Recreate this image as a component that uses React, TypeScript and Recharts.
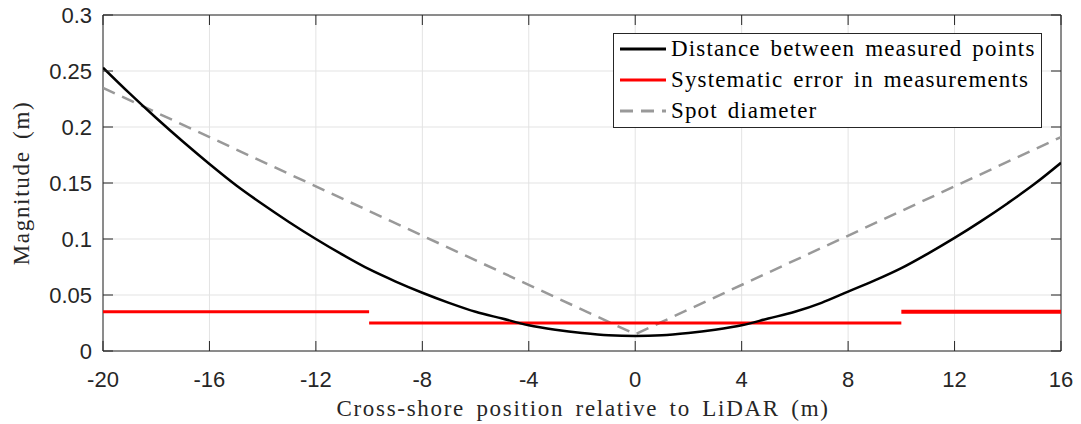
import React from 'react';
import { LineChart, Line, XAxis, YAxis, CartesianGrid, ReferenceArea } from 'recharts';

const xTicks = [-20, -16, -12, -8, -4, 0, 4, 8, 12, 16];
const yTicks = [0, 0.05, 0.1, 0.15, 0.2, 0.25, 0.3];

const distX = [-20, -19, -18, -17, -16, -15, -14, -13, -12, -11, -10, -9, -8, -7, -6, -5, -4, -3, -2, -1, 0, 1, 2, 3, 4, 5, 6, 7, 8, 9, 10, 11, 12, 13, 14, 15, 16];
const distY = [0.253, 0.230, 0.208, 0.187, 0.167, 0.148, 0.131, 0.115, 0.100, 0.086, 0.073, 0.062, 0.052, 0.043, 0.035, 0.029, 0.023, 0.019, 0.016, 0.014, 0.0135, 0.014, 0.016, 0.019, 0.023, 0.029, 0.035, 0.043, 0.053, 0.063, 0.074, 0.087, 0.101, 0.116, 0.132, 0.149, 0.168];

const spotX = [-20, -10, -1, 0, 1, 10, 16];
const spotY = [0.235, 0.125, 0.026, 0.015, 0.026, 0.125, 0.191];

const errLeftX = [-20, -10];
const errLeftY = [0.035, 0.035];
const errMidX = [-10, 10];
const errMidY = [0.025, 0.025];
const errRightX = [10, 16];
const errRightY = [0.035, 0.035];

const seriesNames = ['Distance between measured points', 'Systematic error in measurements', 'Spot diameter'];

const zip = (xs: number[], ys: number[]) => xs.map((x, i) => ({ x, y: ys[i] }));

const PLOT_LEFT = 103;
const PLOT_RIGHT = 1061;
const PLOT_TOP = 15;
const PLOT_BOTTOM = 351;
const AXIS_COLOR = '#262626';
const TICK_FONT = '"Liberation Sans", Arial, sans-serif';
const LABEL_FONT = '"Liberation Serif", "Times New Roman", serif';

const fmtY = (v: number) => String(Math.round(v * 1000) / 1000);

const YTick = (props: any) => {
  const { y, payload } = props;
  return (
    <g>
      <line x1={PLOT_LEFT} x2={PLOT_LEFT + 10} y1={y} y2={y} stroke={AXIS_COLOR} strokeWidth={1} />
      <line x1={PLOT_RIGHT - 10} x2={PLOT_RIGHT} y1={y} y2={y} stroke={AXIS_COLOR} strokeWidth={1} />
      <text x={PLOT_LEFT - 11} y={y} dy="0.36em" textAnchor="end" fontFamily={TICK_FONT} fontSize={22} fill={AXIS_COLOR}>
        {fmtY(payload.value)}
      </text>
    </g>
  );
};

const XTick = (props: any) => {
  const { x, payload } = props;
  return (
    <g>
      <line x1={x} x2={x} y1={PLOT_BOTTOM} y2={PLOT_BOTTOM - 10} stroke={AXIS_COLOR} strokeWidth={1} />
      <line x1={x} x2={x} y1={PLOT_TOP} y2={PLOT_TOP + 10} stroke={AXIS_COLOR} strokeWidth={1} />
      <text x={x} y={387} textAnchor="middle" fontFamily={TICK_FONT} fontSize={22} fill={AXIS_COLOR}>
        {String(payload.value)}
      </text>
    </g>
  );
};

const legendColors = ['#000000', '#ff0000', '#999999'];
const legendDash = [false, false, true];

export default function App() {
  return (
    <div style={{ position: 'absolute', left: 0, top: 0, width: 1081, height: 424, background: '#fff' }}>
      <LineChart
        width={1081}
        height={424}
        margin={{ left: PLOT_LEFT - 60, right: 1081 - PLOT_RIGHT, top: PLOT_TOP, bottom: 424 - PLOT_BOTTOM - 30 }}
      >
        <CartesianGrid stroke="#e3e3e3" strokeWidth={1} />
        <XAxis
          type="number"
          dataKey="x"
          domain={[-20, 16]}
          ticks={xTicks}
          allowDataOverflow
          axisLine={false}
          tickLine={false}
          tickSize={0}
          height={30}
          tick={<XTick />}
          interval={0}
          label={() => (
            <text x={583} y={416} textAnchor="middle" fontFamily={LABEL_FONT} fontSize={23} letterSpacing={1.7} wordSpacing={4} fill={AXIS_COLOR}>
              Cross-shore position relative to LiDAR (m)
            </text>
          )}
        />
        <YAxis
          type="number"
          dataKey="y"
          domain={[0, 0.3]}
          ticks={yTicks}
          allowDataOverflow
          axisLine={false}
          tickLine={false}
          tickSize={0}
          width={60}
          tick={<YTick />}
          interval={0}
          label={() => (
            <text x={0} y={0} transform={`translate(29, ${(PLOT_TOP + PLOT_BOTTOM) / 2}) rotate(-90)`} textAnchor="middle" fontFamily={LABEL_FONT} fontSize={23} letterSpacing={1.7} wordSpacing={4} fill={AXIS_COLOR}>
              Magnitude (m)
            </text>
          )}
        />
        <Line data={zip(spotX, spotY)} dataKey="y" stroke="#999999" strokeWidth={2.5} strokeDasharray="13 8" dot={false} isAnimationActive={false} />
        <Line data={zip(errLeftX, errLeftY)} dataKey="y" stroke="#ff0000" strokeWidth={3} dot={false} isAnimationActive={false} />
        <Line data={zip(errMidX, errMidY)} dataKey="y" stroke="#ff0000" strokeWidth={3} dot={false} isAnimationActive={false} />
        <Line data={zip(errRightX, errRightY)} dataKey="y" stroke="#ff0000" strokeWidth={4} dot={false} isAnimationActive={false} />
        <Line data={zip(distX, distY)} dataKey="y" type="monotone" stroke="#000000" strokeWidth={2.5} dot={false} isAnimationActive={false} />
        <ReferenceArea x1={-20} x2={16} y1={0} y2={0.3} fill="none" stroke={AXIS_COLOR} strokeWidth={1} ifOverflow="visible" />
      </LineChart>
      <div
        style={{
          position: 'absolute',
          left: 613,
          top: 33,
          width: 429,
          height: 95,
          boxSizing: 'border-box',
          border: '1px solid #262626',
          background: '#fff',
          fontFamily: LABEL_FONT,
          fontSize: 23,
          letterSpacing: 1.15,
          wordSpacing: 3,
          color: '#000',
        }}
      >
        {seriesNames.map((name, i) => (
          <div key={name} style={{ position: 'absolute', left: 6, top: 0 + i * 31, height: 30, display: 'flex', alignItems: 'center', whiteSpace: 'nowrap' }}>
            <svg width={46} height={10} style={{ marginRight: 5 }}>
              <line x1={0} x2={46} y1={5} y2={5} stroke={legendColors[i]} strokeWidth={3} strokeDasharray={legendDash[i] ? '13 8' : undefined} />
            </svg>
            <span>{name}</span>
          </div>
        ))}
      </div>
    </div>
  );
}
